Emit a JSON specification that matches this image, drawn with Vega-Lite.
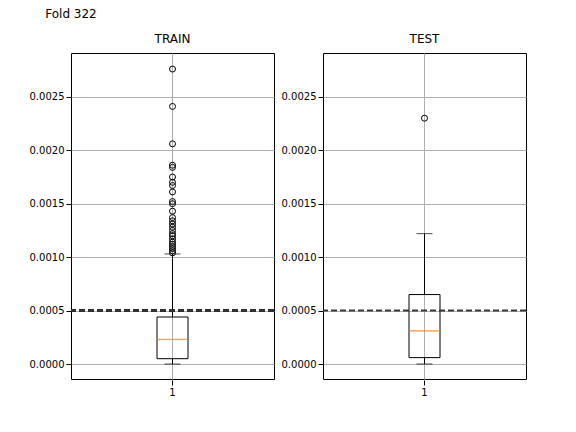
{
  "$schema": "https://vega.github.io/schema/vega-lite/v6.json",
  "title": {"text": "Fold 322", "fontSize": 12, "fontWeight": "normal", "font": "DejaVu Sans", "color": "black", "offset": 12, "anchor": "middle", "frame": "group"},
  "padding": {"left": 28, "top": 8, "right": 50, "bottom": 20},
  "data": {"values": [
    {"panel": "TRAIN", "kind": "box", "x": "1", "lo": 0, "q1": 0.00005, "med": 0.00023, "q3": 0.00044, "hi": 0.00103},
    {"panel": "TEST", "kind": "box", "x": "1", "lo": 0, "q1": 0.00006, "med": 0.00031, "q3": 0.00065, "hi": 0.00122},
    {"panel": "TEST", "kind": "out", "x": "1", "v": 0.0023},
    {"panel": "TRAIN", "kind": "out", "x": "1", "v": 0.00276},
    {"panel": "TRAIN", "kind": "out", "x": "1", "v": 0.00241},
    {"panel": "TRAIN", "kind": "out", "x": "1", "v": 0.00206},
    {"panel": "TRAIN", "kind": "out", "x": "1", "v": 0.00186},
    {"panel": "TRAIN", "kind": "out", "x": "1", "v": 0.00184},
    {"panel": "TRAIN", "kind": "out", "x": "1", "v": 0.00175},
    {"panel": "TRAIN", "kind": "out", "x": "1", "v": 0.0017},
    {"panel": "TRAIN", "kind": "out", "x": "1", "v": 0.00167},
    {"panel": "TRAIN", "kind": "out", "x": "1", "v": 0.00161},
    {"panel": "TRAIN", "kind": "out", "x": "1", "v": 0.00152},
    {"panel": "TRAIN", "kind": "out", "x": "1", "v": 0.0015},
    {"panel": "TRAIN", "kind": "out", "x": "1", "v": 0.00143},
    {"panel": "TRAIN", "kind": "out", "x": "1", "v": 0.00137},
    {"panel": "TRAIN", "kind": "out", "x": "1", "v": 0.00134},
    {"panel": "TRAIN", "kind": "out", "x": "1", "v": 0.00131},
    {"panel": "TRAIN", "kind": "out", "x": "1", "v": 0.00128},
    {"panel": "TRAIN", "kind": "out", "x": "1", "v": 0.00125},
    {"panel": "TRAIN", "kind": "out", "x": "1", "v": 0.00122},
    {"panel": "TRAIN", "kind": "out", "x": "1", "v": 0.0012},
    {"panel": "TRAIN", "kind": "out", "x": "1", "v": 0.00117},
    {"panel": "TRAIN", "kind": "out", "x": "1", "v": 0.00114},
    {"panel": "TRAIN", "kind": "out", "x": "1", "v": 0.00112},
    {"panel": "TRAIN", "kind": "out", "x": "1", "v": 0.0011},
    {"panel": "TRAIN", "kind": "out", "x": "1", "v": 0.00108},
    {"panel": "TRAIN", "kind": "out", "x": "1", "v": 0.00106},
    {"panel": "TRAIN", "kind": "out", "x": "1", "v": 0.00104}
  ]},
  "facet": {"column": {"field": "panel", "type": "nominal", "sort": ["TRAIN", "TEST"], "title": null,
    "header": {"labelFontSize": 12, "labelFont": "DejaVu Sans", "labelColor": "black", "labelPadding": 6}}},
  "spacing": 4,
  "resolve": {"axis": {"y": "independent"}},
  "spec": {
    "width": 203,
    "height": 326,
    "layer": [
      {
        "transform": [{"filter": "datum.kind == 'box'"}],
        "mark": {"type": "rule", "color": "black"},
        "encoding": {
          "x": {"field": "x", "type": "nominal", "title": null,
            "scale": {"paddingInner": 0, "paddingOuter": 0},
            "axis": {"labelAngle": 0, "bandPosition": 0.5, "grid": true, "gridColor": "#b0b0b0", "domain": false, "tickColor": "black", "labelColor": "black", "labelFont": "DejaVu Sans", "labelFontSize": 10}},
          "y": {"field": "lo", "type": "quantitative", "title": null,
            "scale": {"domain": [-0.00014, 0.00291], "nice": false, "zero": false},
            "axis": {"values": [0, 0.0005, 0.001, 0.0015, 0.002, 0.0025], "format": ".4f", "grid": true, "gridColor": "#b0b0b0", "domain": false, "tickColor": "black", "labelColor": "black", "labelFont": "DejaVu Sans", "labelFontSize": 10}},
          "y2": {"field": "q1"}
        }
      },
      {
        "transform": [{"filter": "datum.kind == 'box'"}],
        "mark": {"type": "rule", "color": "black"},
        "encoding": {"x": {"field": "x", "type": "nominal"}, "y": {"field": "q3", "type": "quantitative"}, "y2": {"field": "hi"}}
      },
      {
        "transform": [{"filter": "datum.kind == 'box'"}],
        "mark": {"type": "tick", "color": "black", "size": 16, "thickness": 1},
        "encoding": {"x": {"field": "x", "type": "nominal"}, "y": {"field": "lo", "type": "quantitative"}}
      },
      {
        "transform": [{"filter": "datum.kind == 'box'"}],
        "mark": {"type": "tick", "color": "black", "size": 16, "thickness": 1},
        "encoding": {"x": {"field": "x", "type": "nominal"}, "y": {"field": "hi", "type": "quantitative"}}
      },
      {
        "transform": [{"filter": "datum.kind == 'box'"}],
        "mark": {"type": "bar", "fill": "white", "fillOpacity": 0, "stroke": "black", "strokeWidth": 1, "size": 31},
        "encoding": {"x": {"field": "x", "type": "nominal"}, "y": {"field": "q1", "type": "quantitative"}, "y2": {"field": "q3"}}
      },
      {
        "transform": [{"filter": "datum.kind == 'box'"}],
        "mark": {"type": "tick", "color": "#ff7f0e", "size": 31, "thickness": 1.5},
        "encoding": {"x": {"field": "x", "type": "nominal"}, "y": {"field": "med", "type": "quantitative"}}
      },
      {
        "transform": [{"filter": "datum.kind == 'out'"}],
        "mark": {"type": "point", "shape": "circle", "stroke": "black", "fill": null, "size": 36, "strokeWidth": 1, "opacity": 1},
        "encoding": {"x": {"field": "x", "type": "nominal"}, "y": {"field": "v", "type": "quantitative"}}
      },
      {
        "mark": {"type": "rule", "color": "#333333", "strokeDash": [6, 3], "strokeWidth": 1.5},
        "encoding": {"y": {"datum": 0.0005}}
      }
    ]
  },
  "config": {"view": {"stroke": "black", "strokeWidth": 1}}
}
